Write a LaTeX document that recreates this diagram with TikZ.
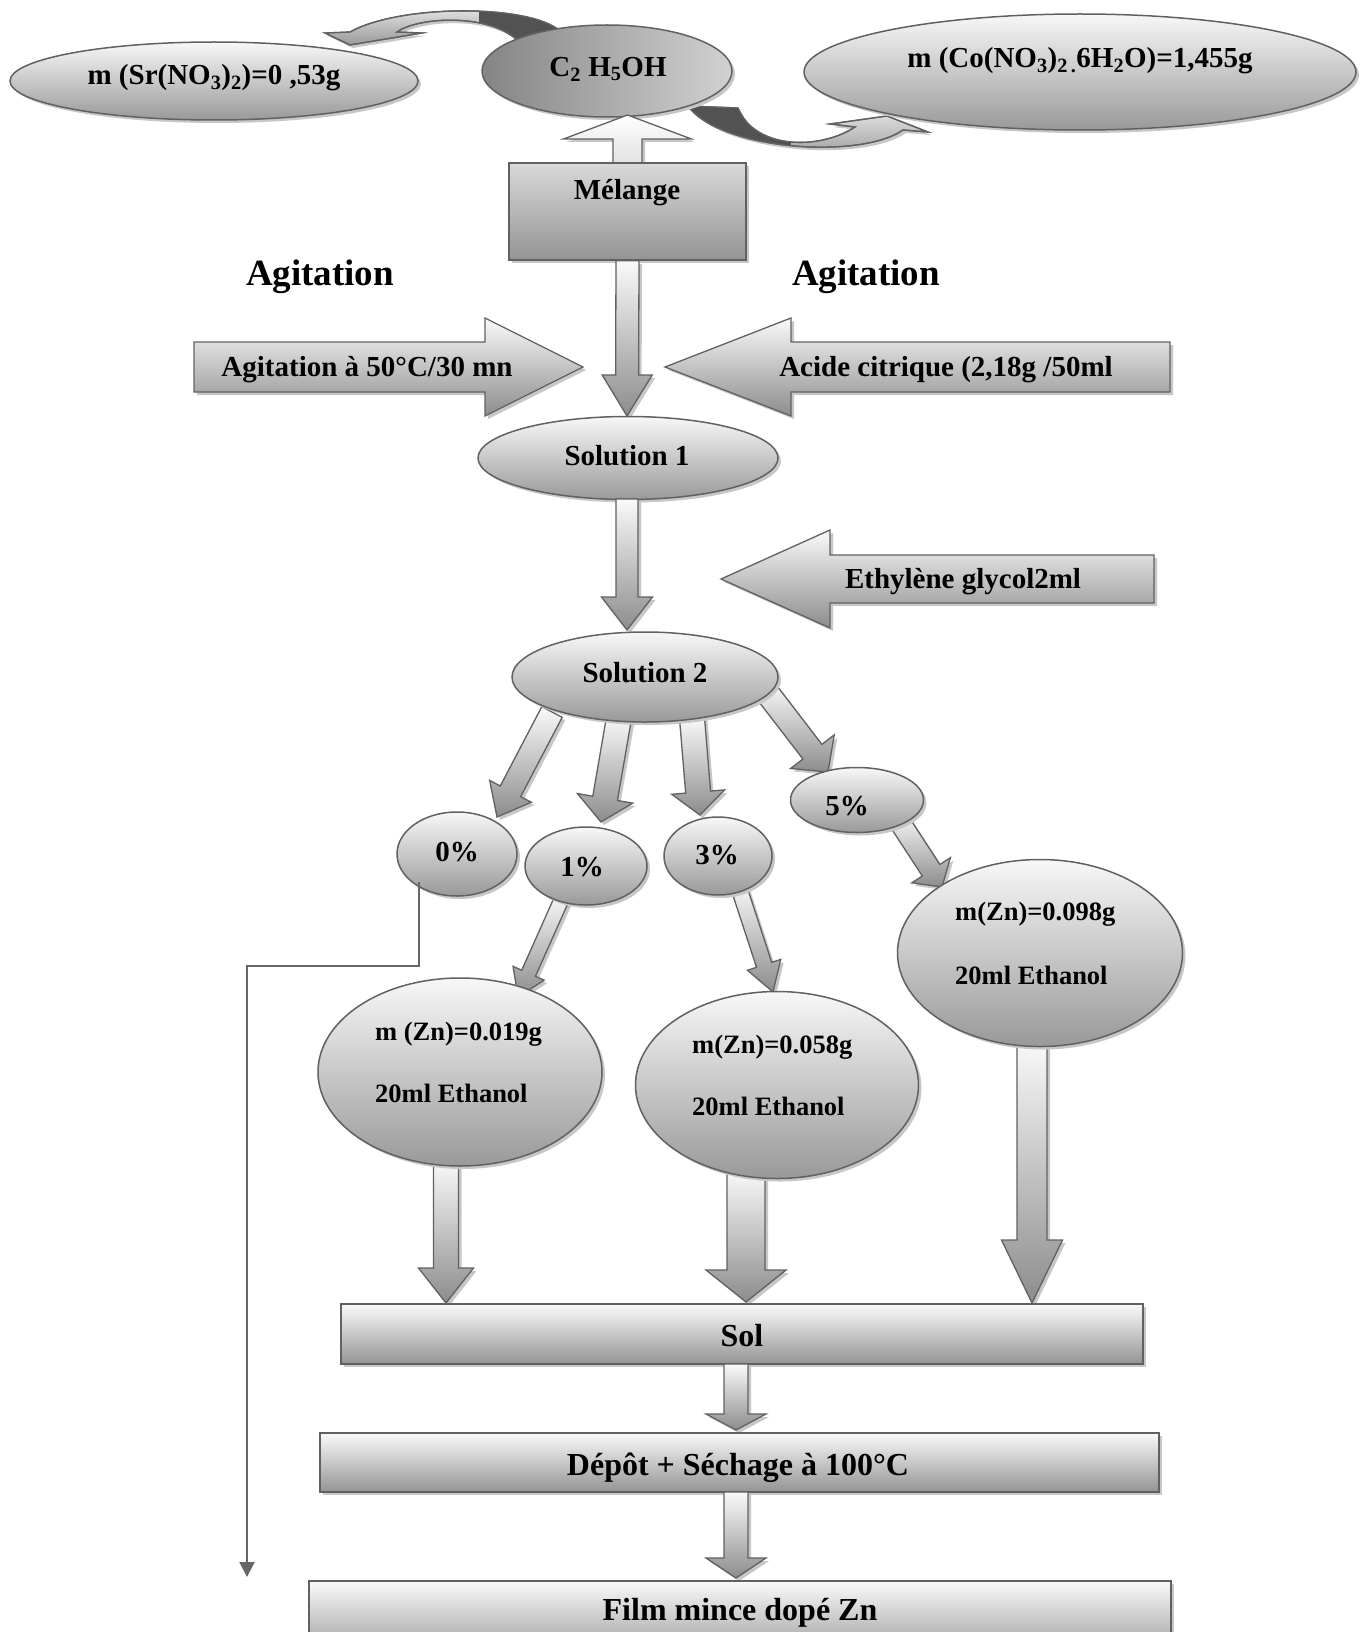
\documentclass[tikz,border=0pt]{standalone}
\usepackage{fontspec}
\setmainfont{Liberation Serif}
\usetikzlibrary{shapes.geometric,calc,shadows,arrows.meta}
\newcommand\blockarr[6][]{%
  \coordinate (ba0) at (#2);
  \coordinate (ba1) at (#3);
  \coordinate (bah) at ($(ba1)!#6!(ba0)$);
  \path[barr,#1] ($(ba0)!#4!90:(ba1)$) -- ($(bah)!#4!90:(ba1)$) -- ($(bah)!#5!90:(ba1)$) -- (ba1) -- ($(bah)!#5!-90:(ba1)$) -- ($(bah)!#4!-90:(ba1)$) -- ($(ba0)!#4!-90:(ba1)$) -- cycle;
}
\tikzset{
  bd/.style={draw=black!62,line width=1.5pt},
  shd/.style={drop shadow={shadow xshift=3pt,shadow yshift=-3pt,fill=black!22,opacity=1}},
  ell/.style={ellipse,bd,inner sep=0pt,top color=black!3,bottom color=black!40,shd},
  bx/.style={rectangle,bd,inner sep=0pt,top color=black!2,bottom color=black!42,shd},
  barr/.style={bd,line width=1.3pt,top color=black!2,bottom color=black!45,shd},
  t29/.style={inner sep=0pt,font=\bfseries\fontsize{29}{34}\selectfont},
  t26/.style={inner sep=0pt,anchor=west,font=\bfseries\fontsize{26.5}{30}\selectfont},
  t32/.style={inner sep=0pt,font=\bfseries\fontsize{32}{38}\selectfont},
  t37/.style={inner sep=0pt,font=\bfseries\fontsize{37}{44}\selectfont},
  thinln/.style={draw=black!60,line width=2pt}
}
\begin{document}
\begin{tikzpicture}[x=1pt,y=-1pt]
\path[use as bounding box] (0,0) rectangle (1363,1632);
\fill[white] (0,0) rectangle (1363,1632);
\clip (0,0) rectangle (1363,1632);

% ---- curved arrows at the top
\path[barr,top color=black!8,bottom color=black!40] (560,31) .. controls (530,4) and (400,4) .. (350,32) -- (325,33) -- (350,45) -- (422,33) -- (397,32) .. controls (420,16) and (490,14) .. (517,40) -- cycle;
\begin{scope}
  \clip (560,31) .. controls (530,4) and (400,4) .. (350,32) -- (325,33) -- (350,45) -- (422,33) -- (397,32) .. controls (420,16) and (490,14) .. (517,40) -- cycle;
  \fill[black!68] (479,0) rectangle (600,60);
\end{scope}
\draw[bd,line width=1.3pt] (560,31) .. controls (530,4) and (400,4) .. (350,32) -- (325,33) -- (350,45) -- (422,33) -- (397,32) .. controls (420,16) and (490,14) .. (517,40);

\path[barr,top color=black!8,bottom color=black!40] (688,106) .. controls (720,150) and (860,160) .. (903,130) -- (928,132) -- (887,116) -- (830,124) -- (855,127) .. controls (820,150) and (755,150) .. (738,108) -- cycle;
\begin{scope}
  \clip (688,106) .. controls (720,150) and (860,160) .. (903,130) -- (928,132) -- (887,116) -- (830,124) -- (855,127) .. controls (820,150) and (755,150) .. (738,108) -- cycle;
  \fill[black!68] (650,90) rectangle (791,170);
\end{scope}
\draw[bd,line width=1.3pt] (688,106) .. controls (720,150) and (860,160) .. (903,130) -- (928,132) -- (887,116) -- (830,124) -- (855,127) .. controls (820,150) and (755,150) .. (738,108) -- cycle;

% ---- top ellipses
\node[ell,minimum width=408pt,minimum height=78pt] (sr) at (214,81) {};
\node[t29] (srt) at (214,78) {m (Sr(NO\textsubscript{3})\textsubscript{2})=0 ,53g};
\node[ell,minimum width=250pt,minimum height=92pt,left color=black!48,right color=black!18] (c2) at (607,71) {};
\node[t29] (c2t) at (608,69) {C\textsubscript{2} H\textsubscript{5}OH};
\node[ell,minimum width=552pt,minimum height=116pt] (co) at (1080,72) {};
\node[t29] (cot) at (1080,61) {m (Co(NO\textsubscript{3})\textsubscript{2\,.}6H\textsubscript{2}O)=1,455g};

% ---- Melange
\coordinate (melup) at (627.5,165);
\coordinate (c2in) at (627.5,115);
\blockarr[top color=white,bottom color=black!12]{melup}{c2in}{14.5pt}{64pt}{24pt}
\node[bx,minimum width=237pt,minimum height=97pt,top color=black!15,bottom color=black!42] (mel) at (627.5,211.5) {};
\node[t29] (melt) at (627,193) {Mélange};

\node[t37] (agl) at (320,277) {Agitation};
\node[t37] (agr) at (866,277) {Agitation};

% ---- to Solution 1
\coordinate (s1in) at (627,416);
\blockarr{mel.south}{s1in}{11.5pt}{25pt}{41pt}
\coordinate (agst) at (194,367);
\coordinate (agtip) at (583,367);
\blockarr{agst}{agtip}{25pt}{49pt}{98pt}
\node[t29] (agt) at (367,370) {Agitation à 50°C/30 mn};
\coordinate (acst) at (1170,367);
\coordinate (actip) at (665,367);
\blockarr{acst}{actip}{25pt}{49pt}{126pt}
\node[t29] (act) at (946,370) {Acide citrique (2,18g /50ml};

\node[ell,minimum width=300pt,minimum height=83pt] (sol1) at (628,458) {};
\node[t29] (sol1t) at (627,456) {Solution 1};

% ---- to Solution 2
\coordinate (s1out) at (627,499);
\coordinate (s2in) at (627,630);
\blockarr{s1out}{s2in}{11pt}{25.5pt}{33pt}
\coordinate (etst) at (1154,579);
\coordinate (ettip) at (721,579);
\blockarr{etst}{ettip}{24pt}{49pt}{109pt}
\node[t29] (ett) at (963,582) {Ethylène glycol2ml};

% ---- branches
\coordinate (b0s) at (552,712);
\coordinate (b0e) at (497,817);
\blockarr{b0s}{b0e}{11.5pt}{23.5pt}{29pt}
\coordinate (b1s) at (619,718);
\coordinate (b1e) at (601,822);
\blockarr{b1s}{b1e}{12.5pt}{28pt}{24pt}
\coordinate (b3s) at (692,718);
\coordinate (b3e) at (700,815);
\blockarr{b3s}{b3e}{12.5pt}{26.5pt}{23pt}
\coordinate (b5s) at (765,690);
\coordinate (b5e) at (828,772);
\blockarr{b5s}{b5e}{12pt}{27.5pt}{25.6pt}

\coordinate (z1s) at (563,896);
\coordinate (z1e) at (518,997);
\blockarr{z1s}{z1e}{7.5pt}{17pt}{26pt}
\coordinate (z3s) at (738,885);
\coordinate (z3e) at (773,992);
\blockarr{z3s}{z3e}{8pt}{17.5pt}{28.6pt}
\coordinate (z5s) at (897,818);
\coordinate (z5e) at (942,887);
\blockarr{z5s}{z5e}{10.5pt}{23pt}{20pt}

\node[ell,minimum width=266pt,minimum height=90pt] (sol2) at (645,677) {};
\node[t29] (sol2t) at (645,673) {Solution 2};

\node[ell,minimum width=120pt,minimum height=84pt] (p0) at (457,854) {};
\node[t29] (p0t) at (457,852) {0\%};
\node[ell,minimum width=122pt,minimum height=78pt] (p1) at (586,866) {};
\node[t29] (p1t) at (582,867) {1\%};
\node[ell,minimum width=108pt,minimum height=78pt] (p3) at (718,856) {};
\node[t29] (p3t) at (717,855) {3\%};
\node[ell,minimum width=133pt,minimum height=65pt] (p5) at (857,800) {};
\node[t29] (p5t) at (847,806) {5\%};

\coordinate (p0out) at (419,882);
\coordinate (lend) at (247,1577);
\draw[thinln,-{Triangle[length=15pt,width=15pt]}] (p0out) -- ++(0,84) -| (lend);

% ---- Zn ellipses
\coordinate (zo1) at (446,1160);
\coordinate (zo3) at (746,1170);
\coordinate (zo5) at (1032,1040);
\coordinate (so1) at (446,1303);
\coordinate (so3) at (746,1302);
\coordinate (so5) at (1032,1303);
\blockarr{zo1}{so1}{12.5pt}{27.5pt}{35pt}
\blockarr{zo3}{so3}{19pt}{40pt}{32pt}
\blockarr{zo5}{so5}{15pt}{30.5pt}{63pt}

\node[ell,minimum width=284pt,minimum height=188pt] (zn1) at (460,1072) {};
\node[t26] (zn1a) at (375,1034) {m (Zn)=0.019g};
\node[t26] (zn1b) at (375,1093) {20ml Ethanol};
\node[ell,minimum width=283pt,minimum height=187pt] (zn3) at (777,1085) {};
\node[t26] (zn3a) at (692,1047) {m(Zn)=0.058g};
\node[t26] (zn3b) at (692,1106) {20ml Ethanol};
\node[ell,minimum width=285pt,minimum height=187pt] (zn5) at (1040,953) {};
\node[t26] (zn5a) at (955,914) {m(Zn)=0.098g};
\node[t26] (zn5b) at (955,975) {20ml Ethanol};

% ---- Sol and below
\node[bx,minimum width=802pt,minimum height=60pt] (sol) at (742,1334) {};
\node[t32] (solt) at (742,1336) {Sol};

\coordinate (depin) at (736,1430);
\coordinate (solout) at (736,1364);
\blockarr{solout}{depin}{12pt}{30pt}{16pt}
\node[bx,minimum width=839pt,minimum height=59pt] (dep) at (739.5,1462.5) {};
\node[t32] (dept) at (738,1468) {Dépôt + Séchage à 100°C};

\coordinate (depout) at (736,1492);
\coordinate (filmin) at (736,1578);
\blockarr{depout}{filmin}{12pt}{30pt}{20pt}
\node[bx,minimum width=862pt,minimum height=80pt] (film) at (740,1621) {};
\node[t32] (filmt) at (740,1613) {Film mince dopé Zn};
\end{tikzpicture}
\end{document}
